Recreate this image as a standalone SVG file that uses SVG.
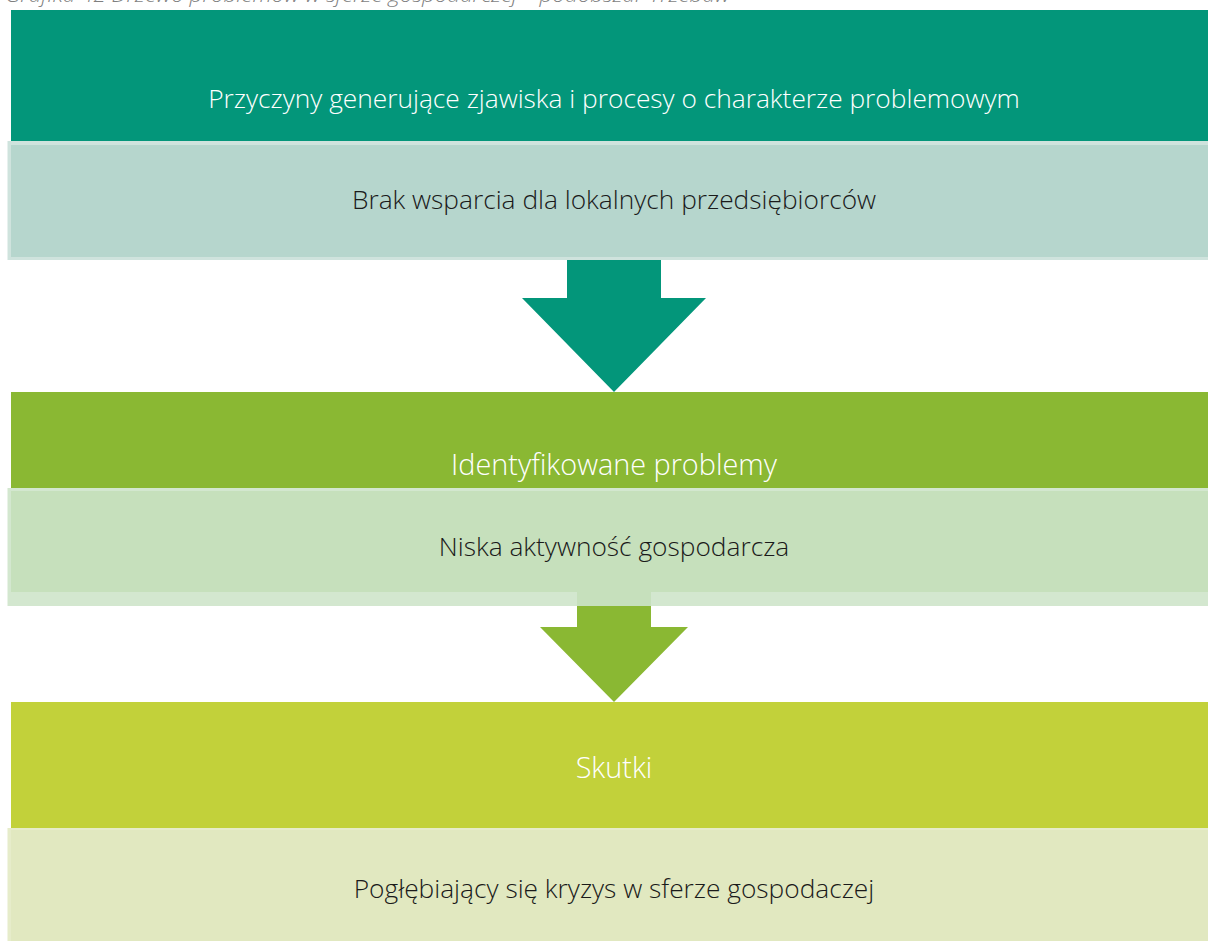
<svg xmlns="http://www.w3.org/2000/svg" width="1208" height="941" viewBox="0 0 1208 941">
<style>
.t{font-family:"Open Sans","Liberation Sans",sans-serif;font-weight:300;font-size:26.3px;text-anchor:middle}
.h{font-size:28.8px}
.w{fill:#ffffff}
.k{fill:#1a1a1a}
.cap{font-family:"Open Sans","Liberation Sans",sans-serif;font-style:italic;font-weight:300;font-size:20px;fill:#7f7f7f}
</style>
<rect width="1208" height="941" fill="#ffffff"/>
<text class="cap" x="5" y="2" textLength="725" lengthAdjust="spacingAndGlyphs">Grafika 42 Drzewo problemów w sferze gospodarczej – podobszar Trzebaw</text>
<g id="connectors">
<polygon points="567,258 661,258 661,298 706,298 614,392 522,298 567,298" fill="#03967a"/>
<polygon points="577,590 651,590 651,627 688,627 614,702 540,627 577,627" fill="#8ab833"/>
</g>
<g id="node-przyczyny">
<rect x="11" y="10" width="1197" height="132" fill="#03967a"/>
<text class="t w" x="614" y="108">Przyczyny generujące zjawiska i procesy o charakterze problemowym</text>
</g>
<g id="node-brak">
<rect x="7.5" y="141" width="1200.5" height="119" fill="#cfe3dd"/>
<rect x="11" y="145" width="1197" height="112" fill="#b6d6cd"/>
<text class="t k" x="614" y="209">Brak wsparcia dla lokalnych przedsiębiorców</text>
</g>
<g id="node-identyfikowane">
<rect x="11" y="392" width="1197" height="96" fill="#8ab833"/>
<text class="t h w" x="614" y="475">Identyfikowane problemy</text>
</g>
<g id="node-niska">
<rect x="7.5" y="488" width="1200.5" height="118" fill="#d3e7cf"/>
<rect x="11" y="491" width="1197" height="101" fill="#c6e0bc"/>
<rect x="577" y="592" width="74" height="14" fill="#c6e0bc"/>
<text class="t k" x="614" y="556">Niska aktywność gospodarcza</text>
</g>
<g id="node-skutki">
<rect x="11" y="702" width="1197" height="126" fill="#c2d13a"/>
<text class="t h w" x="614" y="778">Skutki</text>
</g>
<g id="node-poglebiajacy">
<rect x="7.5" y="828" width="1200.5" height="113" fill="#e6ecca"/>
<rect x="11" y="830" width="1197" height="111" fill="#e1e8c0"/>
<text class="t k" x="614" y="898">Pogłębiający się kryzys w sferze gospodaczej</text>
</g>
</svg>
